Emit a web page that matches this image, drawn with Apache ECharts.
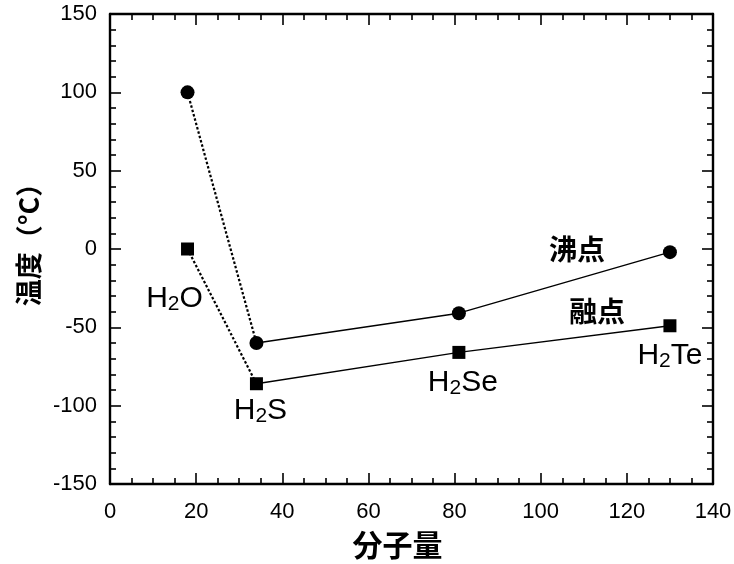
<!DOCTYPE html>
<html>
<head>
<meta charset="utf-8">
<script src="https://cdn.jsdelivr.net/npm/echarts@6/dist/echarts.min.js"></script>
<style>html,body{margin:0;padding:0;background:#fff;}#c{width:734px;height:564px;}</style>
</head>
<body>
<div id="c"></div>
<script>
// ---- data ----
var compounds = ['H{s|2}O', 'H{s|2}S', 'H{s|2}Se', 'H{s|2}Te'];
var molecularWeight = [18, 34, 81, 130];
var boilingPoint = [100, -60, -41, -2];
var meltingPoint = [0, -86, -66, -49];
var seriesNames = ['沸点', '融点'];
var xTicks = [0, 20, 40, 60, 80, 100, 120, 140];
var yTicks = [-150, -100, -50, 0, 50, 100, 150];

// ---- styles ----
var latin = '"Liberation Sans", Arial, Helvetica, sans-serif';
var cjk = '"Noto Sans CJK JP", "Noto Sans CJK SC", sans-serif';
var compoundOffsets = [[-13, 50], [4, 27], [4, 30], [0, 30]];
var nameOffsets = [[-93, -3], [-73, -14]];

function pts(xs, ys) { return xs.map(function (x, i) { return [x, ys[i]]; }); }
var boil = pts(molecularWeight, boilingPoint);
var melt = pts(molecularWeight, meltingPoint);

function lineSeries(data, dotted) {
  return {
    type: 'line', data: data, symbol: 'none', silent: true, z: 2,
    lineStyle: { color: '#000', width: dotted ? 2.2 : 1.3, type: dotted ? [2.5, 2] : 'solid' }
  };
}

function axisParts(split) {
  return {
    axisLine: { show: true, onZero: false, lineStyle: { color: '#000', width: 2.4 } },
    axisTick: { show: true, inside: true, length: 11, lineStyle: { color: '#000', width: 1.6 } },
    minorTick: { show: true, splitNumber: split, length: 6, lineStyle: { color: '#000', width: 1.6 } },
    splitLine: { show: false }
  };
}

function xAxis(pos, labels) {
  return Object.assign({
    type: 'value', position: pos, min: xTicks[0], max: xTicks[xTicks.length - 1], interval: 20,
    axisLabel: { show: labels, color: '#000', fontSize: 22, fontFamily: latin, margin: 17 }
  }, axisParts(4));
}
function yAxis(pos, labels) {
  return Object.assign({
    type: 'value', position: pos, min: yTicks[0], max: yTicks[yTicks.length - 1], interval: 50,
    axisLabel: { show: labels, color: '#000', fontSize: 22, fontFamily: latin, margin: 13 }
  }, axisParts(5));
}

var xa = xAxis('bottom', true);
xa.name = '分子量'; xa.nameLocation = 'middle'; xa.nameGap = 46;
xa.nameTextStyle = { fontSize: 30, fontWeight: 'bold', fontFamily: cjk, color: '#000', padding: [0, 28, 0, 0] };
var ya = yAxis('left', true);
ya.name = '温度（°C）'; ya.nameLocation = 'middle'; ya.nameGap = 67;
ya.nameTextStyle = { fontSize: 27, fontWeight: 'bold', fontFamily: cjk, color: '#000', padding: [0, 0, 0, 22] };

var richSub = { s: { fontSize: 21, fontFamily: latin, color: '#000', verticalAlign: 'bottom', lineHeight: 26 } };

var meltScatter = melt.map(function (p, i) {
  return {
    value: p,
    label: { show: true, formatter: compounds[i], position: 'inside', offset: compoundOffsets[i] }
  };
});
var boilScatter = boil.map(function (p, i) {
  var isLast = i === boil.length - 1;
  return {
    value: p,
    label: { show: isLast, formatter: seriesNames[0], position: 'inside', offset: nameOffsets[0] }
  };
});
var meltNameAnchor = [{
  value: melt[melt.length - 1],
  label: { show: true, formatter: seriesNames[1], position: 'inside', offset: nameOffsets[1] }
}];

var option = {
  animation: false,
  backgroundColor: '#fff',
  grid: { left: 110, right: 21, top: 14, bottom: 80, containLabel: false, outerBoundsMode: 'none' },
  xAxis: [xa, xAxis('top', false)],
  yAxis: [ya, yAxis('right', false)],
  series: [
    lineSeries(boil.slice(0, 2), true),
    lineSeries(boil.slice(1), false),
    lineSeries(melt.slice(0, 2), true),
    lineSeries(melt.slice(1), false),
    {
      type: 'scatter', name: seriesNames[0], symbol: 'circle', symbolSize: 14, z: 3,
      itemStyle: { color: '#000', opacity: 1 }, data: boilScatter,
      label: { color: '#000', fontSize: 28, fontWeight: 'bold', fontFamily: cjk }
    },
    {
      type: 'scatter', name: seriesNames[1], symbol: 'rect', symbolSize: 13, z: 3,
      itemStyle: { color: '#000', opacity: 1 }, data: meltScatter,
      label: { color: '#000', fontSize: 30, fontFamily: latin, lineHeight: 32, rich: richSub }
    },
    {
      type: 'scatter', symbol: 'circle', symbolSize: 1, z: 1, silent: true,
      itemStyle: { color: 'rgba(0,0,0,0)', opacity: 1 }, data: meltNameAnchor,
      label: { color: '#000', fontSize: 28, fontWeight: 'bold', fontFamily: cjk }
    }
  ]
};

var chart = echarts.init(document.getElementById('c'), null, { renderer: 'canvas' });
chart.setOption(option);
</script>
</body>
</html>
